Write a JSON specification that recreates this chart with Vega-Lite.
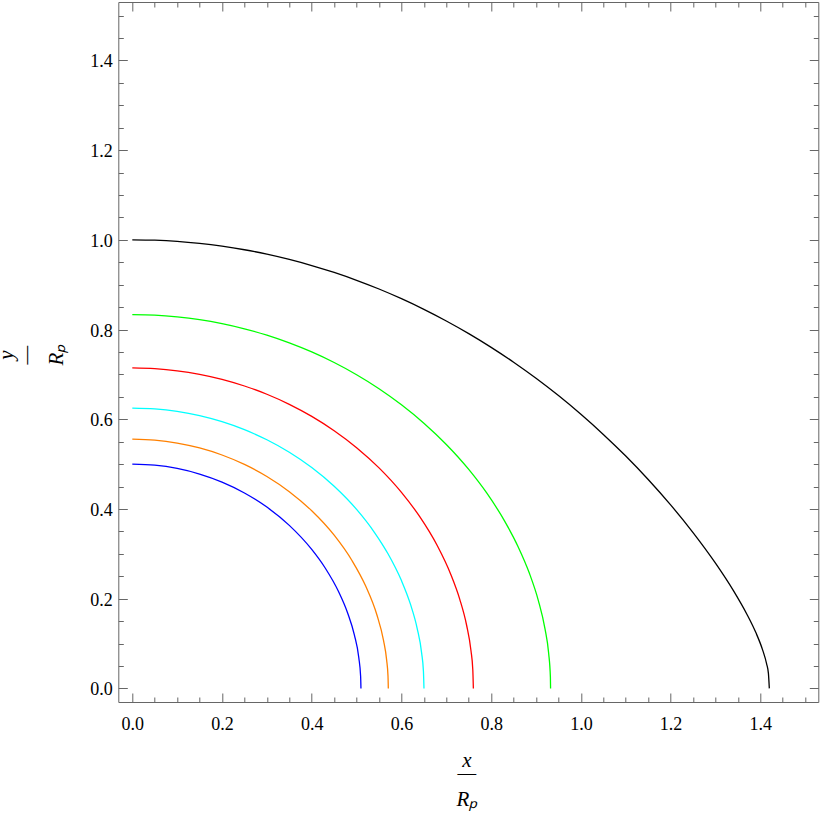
{
  "$schema": "https://vega.github.io/schema/vega-lite/v6.json",
  "width": 700,
  "height": 700,
  "autosize": "none",
  "padding": {"left": 118.3, "top": 2, "right": 3.7, "bottom": 117},
  "background": "white",
  "config": {
    "view": {"stroke": "#666666", "strokeWidth": 1},
    "axis": {
      "grid": false,
      "domain": false,
      "tickColor": "#666666",
      "tickWidth": 1,
      "labelFont": "Liberation Serif",
      "labelFontSize": 18,
      "labelColor": "black",
      "labelOverlap": false,
      "labelFlush": false,
      "titleFont": "Liberation Serif",
      "titleFontSize": 21,
      "titleFontStyle": "italic",
      "titleFontWeight": "normal",
      "titleColor": "black"
    }
  },
  "data": {
    "values": [
      {"s": "0.500", "x": 0, "y": 0.5},
      {"s": "0.500", "x": 0.05, "y": 0.4976},
      {"s": "0.500", "x": 0.1, "y": 0.4903},
      {"s": "0.500", "x": 0.15, "y": 0.4778},
      {"s": "0.500", "x": 0.2, "y": 0.4599},
      {"s": "0.500", "x": 0.25, "y": 0.4357},
      {"s": "0.500", "x": 0.3, "y": 0.4042},
      {"s": "0.500", "x": 0.35, "y": 0.3634},
      {"s": "0.500", "x": 0.4, "y": 0.3098},
      {"s": "0.500", "x": 0.43, "y": 0.2684},
      {"s": "0.500", "x": 0.46, "y": 0.2153},
      {"s": "0.500", "x": 0.48, "y": 0.1681},
      {"s": "0.500", "x": 0.495, "y": 0.1192},
      {"s": "0.500", "x": 0.505, "y": 0.0678},
      {"s": "0.500", "x": 0.509, "y": 0.0264},
      {"s": "0.500", "x": 0.5097, "y": 0},
      {"s": "0.556", "x": 0, "y": 0.5556},
      {"s": "0.556", "x": 0.05, "y": 0.5534},
      {"s": "0.556", "x": 0.1, "y": 0.5469},
      {"s": "0.556", "x": 0.15, "y": 0.536},
      {"s": "0.556", "x": 0.2, "y": 0.5203},
      {"s": "0.556", "x": 0.25, "y": 0.4993},
      {"s": "0.556", "x": 0.3, "y": 0.4725},
      {"s": "0.556", "x": 0.35, "y": 0.4386},
      {"s": "0.556", "x": 0.4, "y": 0.396},
      {"s": "0.556", "x": 0.45, "y": 0.3415},
      {"s": "0.556", "x": 0.49, "y": 0.2846},
      {"s": "0.556", "x": 0.52, "y": 0.2287},
      {"s": "0.556", "x": 0.545, "y": 0.1647},
      {"s": "0.556", "x": 0.56, "y": 0.107},
      {"s": "0.556", "x": 0.567, "y": 0.0631},
      {"s": "0.556", "x": 0.57, "y": 0.0276},
      {"s": "0.556", "x": 0.5707, "y": 0},
      {"s": "0.625", "x": 0, "y": 0.625},
      {"s": "0.625", "x": 0.05, "y": 0.6231},
      {"s": "0.625", "x": 0.1, "y": 0.6175},
      {"s": "0.625", "x": 0.15, "y": 0.6081},
      {"s": "0.625", "x": 0.2, "y": 0.5946},
      {"s": "0.625", "x": 0.25, "y": 0.5768},
      {"s": "0.625", "x": 0.3, "y": 0.5542},
      {"s": "0.625", "x": 0.35, "y": 0.5264},
      {"s": "0.625", "x": 0.4, "y": 0.4923},
      {"s": "0.625", "x": 0.45, "y": 0.4506},
      {"s": "0.625", "x": 0.5, "y": 0.399},
      {"s": "0.625", "x": 0.54, "y": 0.3475},
      {"s": "0.625", "x": 0.57, "y": 0.3001},
      {"s": "0.625", "x": 0.6, "y": 0.2403},
      {"s": "0.625", "x": 0.62, "y": 0.1878},
      {"s": "0.625", "x": 0.635, "y": 0.134},
      {"s": "0.625", "x": 0.645, "y": 0.0787},
      {"s": "0.625", "x": 0.649, "y": 0.0379},
      {"s": "0.625", "x": 0.6502, "y": 0},
      {"s": "0.714", "x": 0, "y": 0.7143},
      {"s": "0.714", "x": 0.05, "y": 0.7127},
      {"s": "0.714", "x": 0.1, "y": 0.708},
      {"s": "0.714", "x": 0.15, "y": 0.7001},
      {"s": "0.714", "x": 0.2, "y": 0.6889},
      {"s": "0.714", "x": 0.25, "y": 0.6741},
      {"s": "0.714", "x": 0.3, "y": 0.6557},
      {"s": "0.714", "x": 0.35, "y": 0.6333},
      {"s": "0.714", "x": 0.4, "y": 0.6064},
      {"s": "0.714", "x": 0.45, "y": 0.5745},
      {"s": "0.714", "x": 0.5, "y": 0.5367},
      {"s": "0.714", "x": 0.55, "y": 0.4916},
      {"s": "0.714", "x": 0.6, "y": 0.437},
      {"s": "0.714", "x": 0.64, "y": 0.3839},
      {"s": "0.714", "x": 0.68, "y": 0.3179},
      {"s": "0.714", "x": 0.71, "y": 0.2541},
      {"s": "0.714", "x": 0.73, "y": 0.1986},
      {"s": "0.714", "x": 0.745, "y": 0.1419},
      {"s": "0.714", "x": 0.755, "y": 0.084},
      {"s": "0.714", "x": 0.759, "y": 0.0421},
      {"s": "0.714", "x": 0.7603, "y": 0},
      {"s": "0.833", "x": 0, "y": 0.8333},
      {"s": "0.833", "x": 0.05, "y": 0.8321},
      {"s": "0.833", "x": 0.1, "y": 0.8283},
      {"s": "0.833", "x": 0.15, "y": 0.8221},
      {"s": "0.833", "x": 0.2, "y": 0.8132},
      {"s": "0.833", "x": 0.25, "y": 0.8017},
      {"s": "0.833", "x": 0.3, "y": 0.7874},
      {"s": "0.833", "x": 0.35, "y": 0.7702},
      {"s": "0.833", "x": 0.4, "y": 0.75},
      {"s": "0.833", "x": 0.45, "y": 0.7264},
      {"s": "0.833", "x": 0.5, "y": 0.6992},
      {"s": "0.833", "x": 0.55, "y": 0.6681},
      {"s": "0.833", "x": 0.6, "y": 0.6323},
      {"s": "0.833", "x": 0.65, "y": 0.5913},
      {"s": "0.833", "x": 0.7, "y": 0.5438},
      {"s": "0.833", "x": 0.75, "y": 0.4882},
      {"s": "0.833", "x": 0.79, "y": 0.4357},
      {"s": "0.833", "x": 0.83, "y": 0.373},
      {"s": "0.833", "x": 0.86, "y": 0.3159},
      {"s": "0.833", "x": 0.885, "y": 0.2571},
      {"s": "0.833", "x": 0.905, "y": 0.1964},
      {"s": "0.833", "x": 0.92, "y": 0.1326},
      {"s": "0.833", "x": 0.928, "y": 0.0794},
      {"s": "0.833", "x": 0.932, "y": 0.0251},
      {"s": "0.833", "x": 0.9324, "y": 0},
      {"s": "1.000", "x": 0, "y": 1.0},
      {"s": "1.000", "x": 0.05, "y": 0.9991},
      {"s": "1.000", "x": 0.1, "y": 0.9965},
      {"s": "1.000", "x": 0.15, "y": 0.992},
      {"s": "1.000", "x": 0.2, "y": 0.9858},
      {"s": "1.000", "x": 0.25, "y": 0.9778},
      {"s": "1.000", "x": 0.3, "y": 0.968},
      {"s": "1.000", "x": 0.35, "y": 0.9563},
      {"s": "1.000", "x": 0.4, "y": 0.9427},
      {"s": "1.000", "x": 0.45, "y": 0.9272},
      {"s": "1.000", "x": 0.5, "y": 0.9097},
      {"s": "1.000", "x": 0.55, "y": 0.8903},
      {"s": "1.000", "x": 0.6, "y": 0.8687},
      {"s": "1.000", "x": 0.65, "y": 0.845},
      {"s": "1.000", "x": 0.7, "y": 0.8191},
      {"s": "1.000", "x": 0.75, "y": 0.7909},
      {"s": "1.000", "x": 0.8, "y": 0.7603},
      {"s": "1.000", "x": 0.85, "y": 0.7271},
      {"s": "1.000", "x": 0.9, "y": 0.6913},
      {"s": "1.000", "x": 0.95, "y": 0.6527},
      {"s": "1.000", "x": 1.0, "y": 0.6111},
      {"s": "1.000", "x": 1.05, "y": 0.5662},
      {"s": "1.000", "x": 1.1, "y": 0.5179},
      {"s": "1.000", "x": 1.15, "y": 0.4657},
      {"s": "1.000", "x": 1.2, "y": 0.4091},
      {"s": "1.000", "x": 1.25, "y": 0.3474},
      {"s": "1.000", "x": 1.3, "y": 0.2792},
      {"s": "1.000", "x": 1.34, "y": 0.218},
      {"s": "1.000", "x": 1.37, "y": 0.1654},
      {"s": "1.000", "x": 1.39, "y": 0.1244},
      {"s": "1.000", "x": 1.405, "y": 0.086},
      {"s": "1.000", "x": 1.414, "y": 0.0547},
      {"s": "1.000", "x": 1.418, "y": 0.0335},
      {"s": "1.000", "x": 1.42, "y": 0}
    ]
  },
  "layer": [
    {
      "mark": {"type": "line", "strokeWidth": 1.3, "interpolate": "monotone"},
      "encoding": {
        "x": {
          "field": "x", "type": "quantitative",
          "scale": {"domain": [-0.0312, 1.5292], "nice": false, "zero": false},
          "axis": {
            "orient": "bottom",
            "values": [0, 0.05, 0.1, 0.15, 0.2, 0.25, 0.3, 0.35, 0.4, 0.45, 0.5, 0.55, 0.6, 0.65, 0.7, 0.75, 0.8, 0.85, 0.9, 0.95, 1, 1.05, 1.1, 1.15, 1.2, 1.25, 1.3, 1.35, 1.4, 1.45, 1.5],
            "labelExpr": "abs(datum.value*5 - round(datum.value*5)) < 0.000001 ? format(datum.value, '.1f') : ''",
            "tickSize": {"condition": {"test": "abs(datum.value*5 - round(datum.value*5)) < 0.000001", "value": -9}, "value": -5},
            "labelPadding": 22,
            "title": ["x", "—", "\u200b", "Rₚ"],
            "titleBaseline": "alphabetic",
            "titleLineHeight": 13,
            "titleX": 348,
            "titleY": 64
          }
        },
        "y": {
          "field": "y", "type": "quantitative",
          "scale": {"domain": [-0.0303, 1.5301], "nice": false, "zero": false},
          "axis": {
            "orient": "left",
            "values": [0, 0.05, 0.1, 0.15, 0.2, 0.25, 0.3, 0.35, 0.4, 0.45, 0.5, 0.55, 0.6, 0.65, 0.7, 0.75, 0.8, 0.85, 0.9, 0.95, 1, 1.05, 1.1, 1.15, 1.2, 1.25, 1.3, 1.35, 1.4, 1.45, 1.5],
            "labelExpr": "abs(datum.value*5 - round(datum.value*5)) < 0.000001 ? format(datum.value, '.1f') : ''",
            "tickSize": {"condition": {"test": "abs(datum.value*5 - round(datum.value*5)) < 0.000001", "value": -9}, "value": -5},
            "labelPadding": 15,
            "labelOffset": 1.5,
            "title": ["y", "\u200b", "—", "\u200b", "\u200b", "Rₚ"],
            "titleAngle": 270,
            "titleBaseline": "alphabetic",
            "titleLineHeight": 10,
            "titleX": -105.8,
            "titleY": 352.7
          }
        },
        "color": {
          "field": "s", "type": "nominal",
          "scale": {"domain": ["0.500", "0.556", "0.625", "0.714", "0.833", "1.000"], "range": ["#0000FF", "#FF8000", "#00FFFF", "#FF0000", "#00FF00", "#000000"]},
          "legend": null
        }
      }
    },
    {
      "mark": {"type": "line", "strokeOpacity": 0},
      "encoding": {
        "x": {
          "field": "x", "type": "quantitative",
          "axis": {
            "orient": "top",
            "values": [0, 0.05, 0.1, 0.15, 0.2, 0.25, 0.3, 0.35, 0.4, 0.45, 0.5, 0.55, 0.6, 0.65, 0.7, 0.75, 0.8, 0.85, 0.9, 0.95, 1, 1.05, 1.1, 1.15, 1.2, 1.25, 1.3, 1.35, 1.4, 1.45, 1.5],
            "labels": false,
            "tickSize": {"condition": {"test": "abs(datum.value*5 - round(datum.value*5)) < 0.000001", "value": -9}, "value": -5},
            "title": null
          }
        },
        "y": {
          "field": "y", "type": "quantitative",
          "axis": {
            "orient": "right",
            "values": [0, 0.05, 0.1, 0.15, 0.2, 0.25, 0.3, 0.35, 0.4, 0.45, 0.5, 0.55, 0.6, 0.65, 0.7, 0.75, 0.8, 0.85, 0.9, 0.95, 1, 1.05, 1.1, 1.15, 1.2, 1.25, 1.3, 1.35, 1.4, 1.45, 1.5],
            "labels": false,
            "tickSize": {"condition": {"test": "abs(datum.value*5 - round(datum.value*5)) < 0.000001", "value": -9}, "value": -5},
            "title": null
          }
        },
        "detail": {"field": "s", "type": "nominal"}
      }
    }
  ],
  "resolve": {"axis": {"x": "independent", "y": "independent"}}
}
